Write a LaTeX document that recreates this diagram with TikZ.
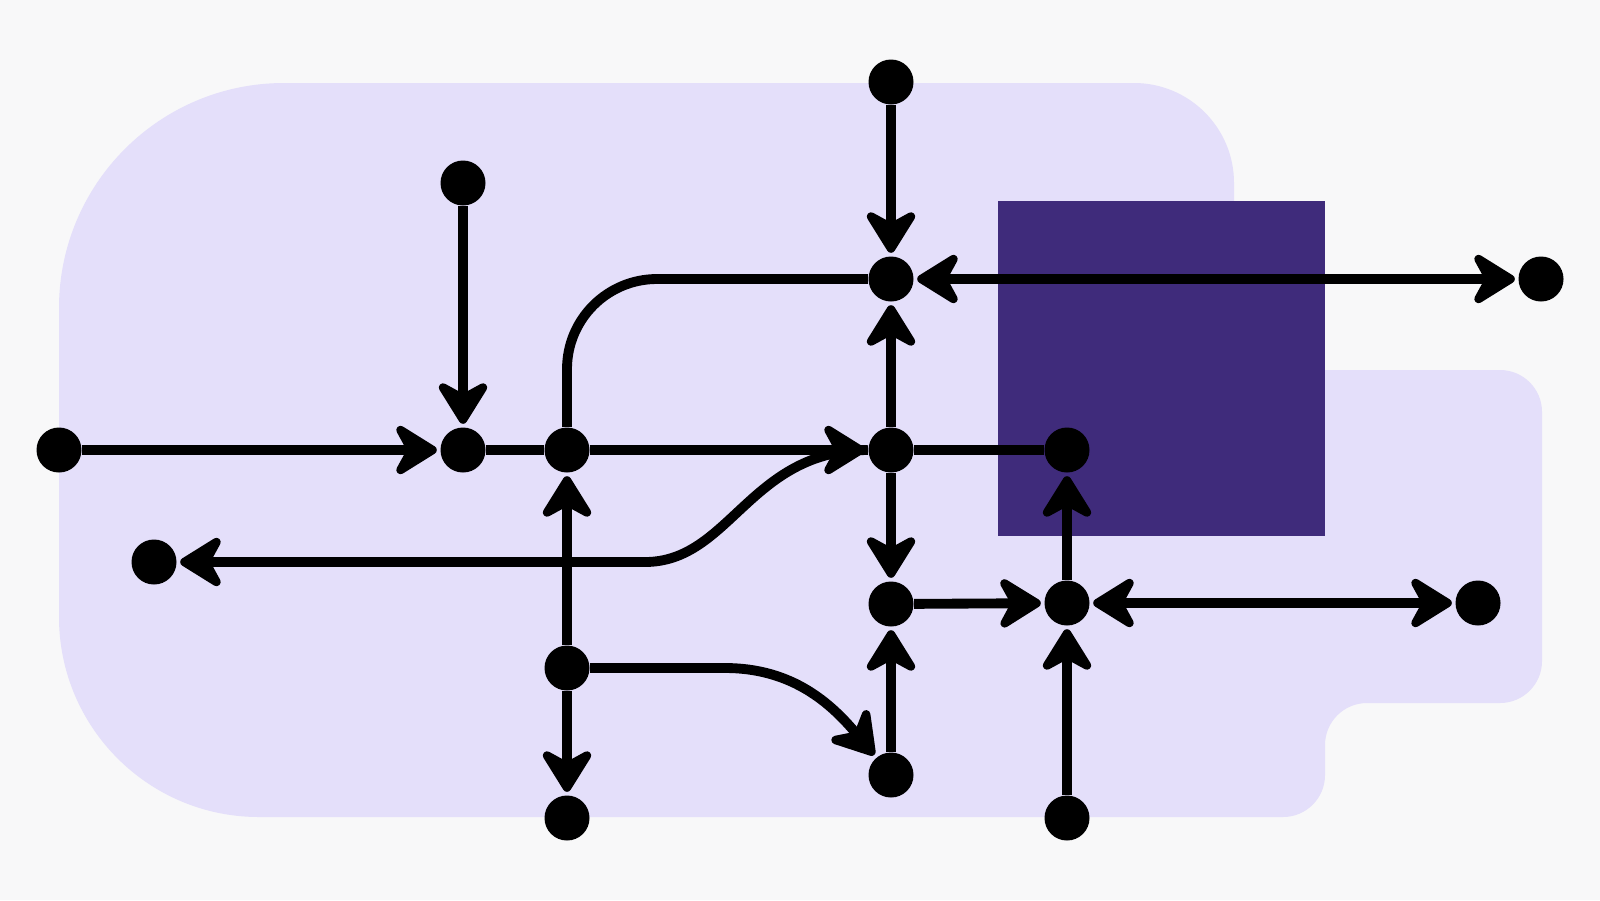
\documentclass[tikz,border=0pt]{standalone}
\usetikzlibrary{arrows.meta}

\definecolor{paper}{HTML}{F8F8F9}
\definecolor{lilac}{HTML}{E4DFFA}
\definecolor{plum}{HTML}{3F2B7B}

\tikzset{
    dot/.style={circle, fill=black, minimum size=4.5mm, inner sep=0pt},
    wire/.style={line width=2.8pt, black},
    tip/.tip={Stealth[length=5.1mm, width=6.3mm, inset=1.7mm, round]},
    link/.style={wire, -tip, shorten >=0.3mm},
    twoway/.style={wire, tip-tip, shorten >=0.3mm, shorten <=0.3mm}
}

\begin{document}
\begin{tikzpicture}
    \useasboundingbox (0,0) rectangle (16,-9);
    \fill[paper] (0,0) rectangle (16,-9);
    \fill[lilac] (0.59,-3.08) arc[start angle=180, end angle=90, radius=2.25]
        -- (11.34,-0.83) arc[start angle=90, end angle=0, radius=1.0]
        -- (12.34,-3.70) -- (15.00,-3.70) arc[start angle=90, end angle=0, radius=0.42]
        -- (15.42,-6.61) arc[start angle=0, end angle=-90, radius=0.42]
        -- (13.67,-7.03) arc[start angle=90, end angle=180, radius=0.42]
        -- (13.25,-7.75) arc[start angle=0, end angle=-90, radius=0.42]
        -- (2.59,-8.17) arc[start angle=270, end angle=180, radius=2.0] -- cycle;
    \fill[plum] (9.98,-2.01) rectangle (13.25,-5.36);

    \node[dot] (src-top) at (8.91,-0.82) {};
    \node[dot] (src-upper) at (4.63,-1.83) {};
    \node[dot] (hub-top) at (8.91,-2.79) {};
    \node[dot] (sink-right) at (15.41,-2.79) {};
    \node[dot] (src-left) at (0.59,-4.50) {};
    \node[dot] (merge) at (4.63,-4.50) {};
    \node[dot] (split) at (5.67,-4.50) {};
    \node[dot] (hub-mid) at (8.91,-4.50) {};
    \node[dot] (inner) at (10.67,-4.50) {};
    \node[dot] (sink-left) at (1.54,-5.62) {};
    \node[dot] (hub-low) at (8.91,-6.04) {};
    \node[dot] (join) at (10.67,-6.03) {};
    \node[dot] (sink-far) at (14.78,-6.03) {};
    \node[dot] (branch) at (5.67,-6.68) {};
    \node[dot] (sink-mid) at (8.91,-7.75) {};
    \node[dot] (sink-low) at (5.67,-8.18) {};
    \node[dot] (src-low) at (10.67,-8.18) {};
    \coordinate (bend-left) at (6.45,-5.62);
    \coordinate (bend-low) at (7.25,-6.68);

    \draw[link] (src-top) -- (hub-top);
    \draw[link] (src-upper) -- (merge);
    \draw[link] (src-left) -- (merge);
    \draw[wire] (merge) -- (split);
    \draw[link] (split) -- (hub-mid);
    \draw[wire] (hub-mid) -- (inner);
    \draw[wire, rounded corners=9mm] (split.north) |- (hub-top.west);
    \draw[twoway] (hub-top) -- (sink-right);
    \draw[link] (hub-mid) -- (hub-top);
    \draw[link] (hub-mid) -- (hub-low);
    \draw[link] (hub-low) -- (join);
    \draw[link] (join) -- (inner);
    \draw[twoway] (join) -- (sink-far);
    \draw[link] (src-low) -- (join);
    \draw[link] (sink-mid) -- (hub-low);
    \draw[link] (branch) -- (split);
    \draw[link] (branch) -- (sink-low);
    \draw[link] (hub-mid.west) .. controls (7.5,-4.50) and (7.3,-5.62) .. (bend-left)
        -- (sink-left);
    \draw[link] (branch) -- (bend-low) to[out=0, in=130] (sink-mid);
\end{tikzpicture}
\end{document}
